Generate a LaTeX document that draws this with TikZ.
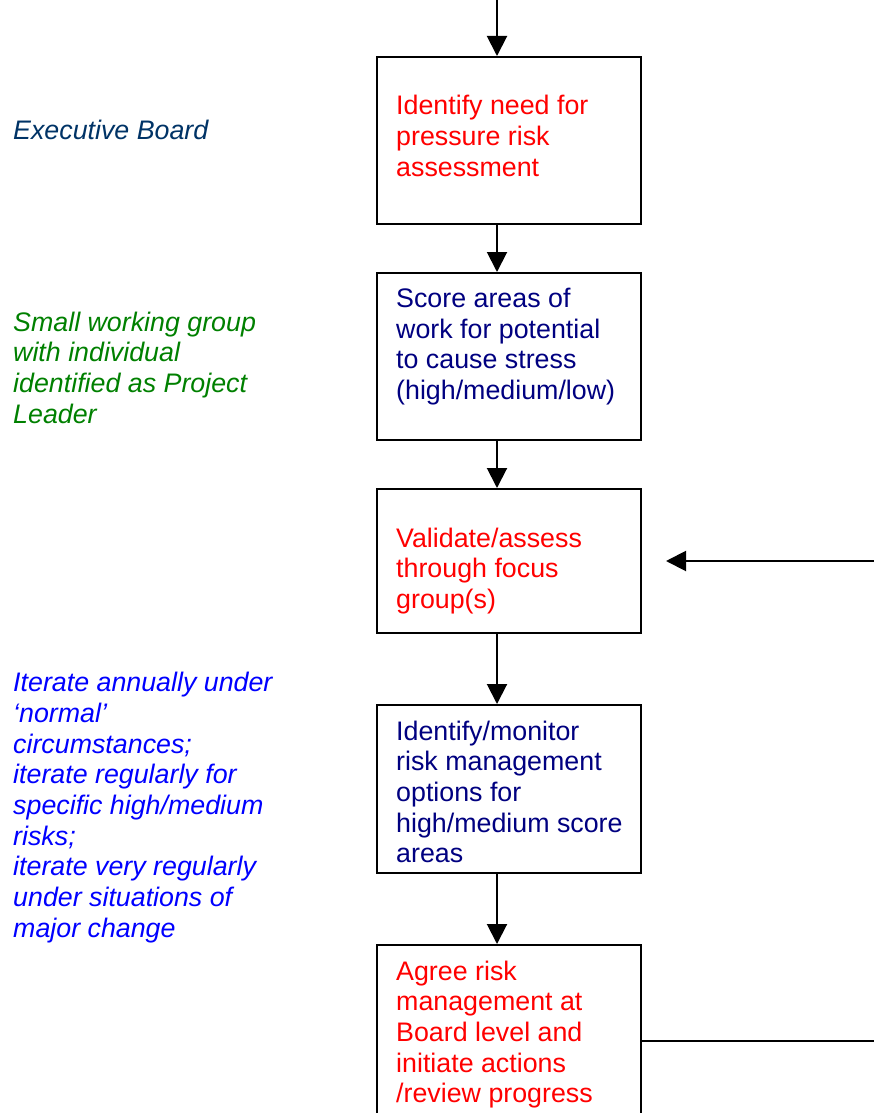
\documentclass[tikz,border=0pt]{standalone}
\usepackage{fontspec}
\setmainfont{Liberation Sans}
\usetikzlibrary{arrows.meta}
\definecolor{boxred}{RGB}{255,0,0}
\definecolor{boxnavy}{RGB}{0,0,128}
\definecolor{execblue}{RGB}{0,51,102}
\definecolor{groupgreen}{RGB}{0,128,0}
\definecolor{iterblue}{RGB}{0,0,255}
\begin{document}
\begin{tikzpicture}[x=1pt,y=-1pt,
  stepbox/.style={draw=black, line width=2pt, rectangle, minimum width=264pt, inner sep=0pt},
  boxtext/.style={anchor=north west, inner sep=0pt, align=left, font=\fontsize{26.8}{30.7}\selectfont},
  sidetext/.style={anchor=north west, inner sep=0pt, align=left, font=\fontsize{26.8}{30.7}\selectfont\itshape},
  arr/.style={line width=2pt, -{Triangle[width=20pt,length=20pt]}},
  conn/.style={line width=2.2pt}]
\useasboundingbox (0,0) rectangle (874,1113);

% boxes
\node[stepbox, minimum height=167pt] (b1) at (509,140.5) {};
\node[stepbox, minimum height=167pt] (b2) at (509,356.5) {};
\node[stepbox, minimum height=144pt] (b3) at (509,561) {};
\node[stepbox, minimum height=168pt] (b4) at (509,789) {};
\node[stepbox, minimum height=171pt] (b5) at (509,1030.5) {};

% box texts
\node[boxtext, text=boxred] (t1) at (396,95) {Identify need for\\pressure risk\\assessment};
\node[boxtext, text=boxnavy] (t2) at (396,288) {Score areas of\\work for potential\\to cause stress\\(high/medium/low)};
\node[boxtext, text=boxred] (t3) at (396,527.5) {Validate/assess\\through focus\\group(s)};
\node[boxtext, text=boxnavy] (t4) at (396,720.5) {Identify/monitor\\risk management\\options for\\high/medium score\\areas};
\node[boxtext, text=boxred] (t5) at (396,960.5) {Agree risk\\management at\\Board level and\\initiate actions\\/review progress};

% side texts
\node[sidetext, text=execblue] (s1) at (13,119.5) {Executive Board};
\node[sidetext, text=groupgreen] (s2) at (13,311.5) {Small working group\\with individual\\identified as Project\\Leader};
\node[sidetext, text=iterblue] (s3) at (13,672) {Iterate annually under\\‘normal’\\circumstances;\\iterate regularly for\\specific high/medium\\risks;\\iterate very regularly\\under situations of\\major change};

% connectors
\coordinate (ax) at (497,-2);
\coordinate (rb) at (876,1041);
\coordinate (rt) at (876,561);
\draw[arr] (ax) -- (b1.north -| ax);
\draw[arr] (b1.south -| ax) -- (b2.north -| ax);
\draw[arr] (b2.south -| ax) -- (b3.north -| ax);
\draw[arr] (b3.south -| ax) -- (b4.north -| ax);
\draw[arr] (b4.south -| ax) -- (b5.north -| ax);
\draw[conn] (b5.east |- rb) -- (rb);
\draw[arr, shorten >=24pt] (rt) -- (b3.east |- rt);
\end{tikzpicture}
\end{document}
